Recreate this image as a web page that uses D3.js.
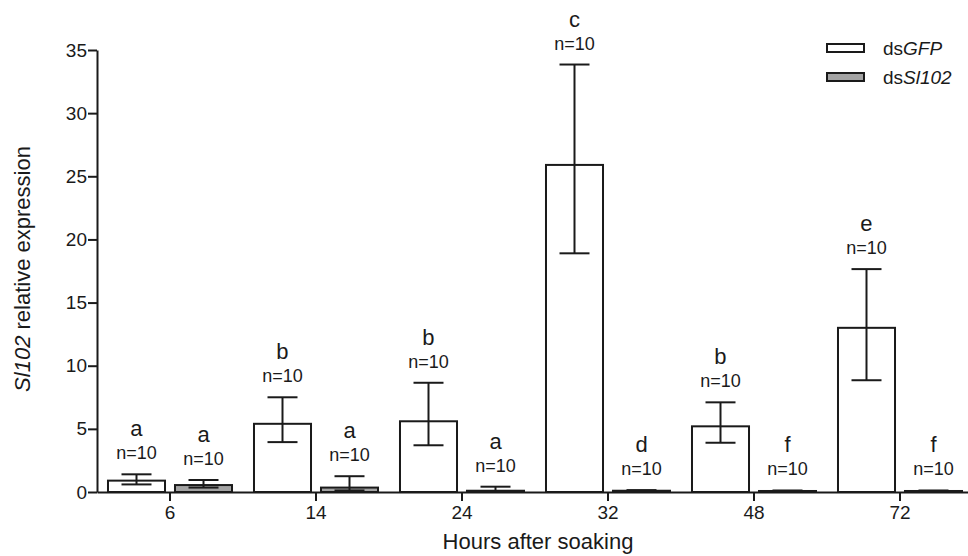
<!DOCTYPE html>
<html>
<head>
<meta charset="utf-8">
<script src="https://cdn.jsdelivr.net/npm/d3@7"></script>
<style>
  body { margin: 0; background: #fff; }
  svg { display: block; font-family: "Liberation Sans", Arial, sans-serif; }
</style>
</head>
<body>
<div id="chart"></div>
<script>
// Hours after soaking (categories)
const hours = ['6', '14', '24', '32', '48', '72'];
const series = ['dsGFP', 'dsSl102'];

// dsGFP means and error bar ends
const gfpMean  = [0.9, 5.4, 5.6, 25.9, 5.2, 13.0];
const gfpUpper = [1.4, 7.5, 8.65, 33.85, 7.1, 17.65];
const gfpLower = [0.6, 3.95, 3.7, 18.9, 3.9, 8.85];

// dsSl102 means and error bar ends
const slMean  = [0.55, 0.35, 0.1, 0.1, 0.08, 0.08];
const slUpper = [0.95, 1.25, 0.42, 0.15, 0.12, 0.12];
const slLower = [0.35, 0.12, 0.05, 0.06, 0.05, 0.05];

// significance letters and sample sizes
const gfpLetters = ['a', 'b', 'b', 'c', 'b', 'e'];
const slLetters  = ['a', 'a', 'a', 'd', 'f', 'f'];
const nLabels = ['n=10', 'n=10', 'n=10', 'n=10', 'n=10', 'n=10'];

const yTicks = [0, 5, 10, 15, 20, 25, 30, 35];

const width = 968, height = 556;
const margin = { top: 50, right: -5, bottom: 64, left: 97 };

const svg = d3.select('#chart').append('svg')
  .attr('width', width)
  .attr('height', height);

const x = d3.scaleBand()
  .domain(hours)
  .range([margin.left, width - margin.right])
  .padding(0);

const xs = d3.scaleBand()
  .domain(series)
  .range([0, x.bandwidth()])
  .paddingInner(0.149)
  .paddingOuter(0.164);

const y = d3.scaleLinear()
  .domain([0, 35])
  .range([height - margin.bottom, margin.top]);

// flatten into records for drawing
const rows = [];
hours.forEach((h, i) => {
  rows.push({ hour: h, s: 'dsGFP', mean: gfpMean[i], hi: gfpUpper[i], lo: gfpLower[i], letter: gfpLetters[i], n: nLabels[i] });
  rows.push({ hour: h, s: 'dsSl102', mean: slMean[i], hi: slUpper[i], lo: slLower[i], letter: slLetters[i], n: nLabels[i] });
});
const fill = { dsGFP: '#ffffff', dsSl102: '#a3a3a3' };
const ink = '#1a1a1a';

const cx = d => x(d.hour) + xs(d.s) + xs.bandwidth() / 2;

// bars
svg.selectAll('.bar')
  .data(rows)
  .enter()
  .append('rect')
  .attr('class', 'bar')
  .attr('x', d => x(d.hour) + xs(d.s))
  .attr('y', d => y(d.mean))
  .attr('width', xs.bandwidth())
  .attr('height', d => y(0) - y(d.mean))
  .attr('fill', d => fill[d.s])
  .attr('stroke', ink)
  .attr('stroke-width', 2);

// error bars
const err = svg.selectAll('.err')
  .data(rows)
  .enter()
  .append('g')
  .attr('class', 'err')
  .attr('stroke', ink)
  .attr('stroke-width', 2);

err.append('line')
  .attr('x1', cx).attr('x2', cx)
  .attr('y1', d => y(d.hi)).attr('y2', d => y(d.lo));
err.append('line')
  .attr('x1', d => cx(d) - 15).attr('x2', d => cx(d) + 15)
  .attr('y1', d => y(d.hi)).attr('y2', d => y(d.hi));
err.append('line')
  .attr('x1', d => cx(d) - 15).attr('x2', d => cx(d) + 15)
  .attr('y1', d => y(d.lo)).attr('y2', d => y(d.lo));

// annotations
svg.selectAll('.nlab')
  .data(rows)
  .enter()
  .append('text')
  .attr('class', 'nlab')
  .attr('x', cx)
  .attr('y', d => y(d.hi) - 15)
  .attr('text-anchor', 'middle')
  .attr('font-size', 18)
  .attr('fill', ink)
  .text(d => d.n);

svg.selectAll('.letter')
  .data(rows)
  .enter()
  .append('text')
  .attr('class', 'letter')
  .attr('x', cx)
  .attr('y', d => y(d.hi) - 38)
  .attr('text-anchor', 'middle')
  .attr('font-size', 22)
  .attr('fill', ink)
  .text(d => d.letter);

// axes
const xAxis = svg.append('g')
  .attr('transform', `translate(0,${y(0)})`)
  .call(d3.axisBottom(x).tickSize(9).tickSizeOuter(0).tickPadding(5));

const yAxis = svg.append('g')
  .attr('transform', `translate(${margin.left},0)`)
  .call(d3.axisLeft(y).tickValues(yTicks).tickSize(9).tickSizeOuter(0).tickPadding(1));

[xAxis, yAxis].forEach(g => {
  g.selectAll('path, line').attr('stroke', ink).attr('stroke-width', 2);
  g.selectAll('text')
    .attr('font-size', 19)
    .attr('fill', ink)
    .style('font-family', '"Liberation Sans", Arial, sans-serif');
});

// axis titles
svg.append('text')
  .attr('x', 538)
  .attr('y', 549)
  .attr('text-anchor', 'middle')
  .attr('font-size', 22)
  .attr('fill', ink)
  .text('Hours after soaking');

const yTitle = svg.append('text')
  .attr('transform', `translate(30,${(y(0) + y(35)) / 2 - 2}) rotate(-90)`)
  .attr('text-anchor', 'middle')
  .attr('font-size', 22)
  .attr('fill', ink);
yTitle.append('tspan').attr('font-style', 'italic').text('Sl102');
yTitle.append('tspan').text(' relative expression');

// legend
const legend = svg.append('g').attr('transform', 'translate(827,44)');
series.forEach((s, i) => {
  const row = legend.append('g').attr('transform', `translate(0,${i * 29})`);
  row.append('rect')
    .attr('width', 37).attr('height', 8)
    .attr('fill', fill[s])
    .attr('stroke', ink)
    .attr('stroke-width', 2);
  const t = row.append('text')
    .attr('x', 56).attr('y', 11)
    .attr('font-size', 19)
    .attr('fill', ink);
  t.append('tspan').text('ds');
  t.append('tspan').attr('font-style', 'italic').text(s.slice(2));
});
</script>
</body>
</html>
